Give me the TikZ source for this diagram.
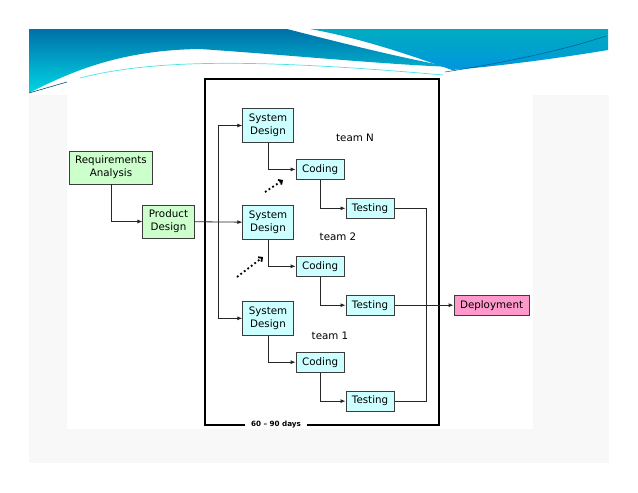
\documentclass[tikz,border=0pt]{standalone}
\usepackage{fontspec}
\setmainfont{DejaVu Sans}
\usetikzlibrary{arrows.meta,positioning}
\definecolor{reqgreen}{RGB}{204,255,204}
\definecolor{teamcyan}{RGB}{204,255,255}
\definecolor{deploypink}{RGB}{255,153,204}
\definecolor{boxedge}{RGB}{60,60,60}
\definecolor{bannerdark}{RGB}{0,112,168}
\definecolor{bannercyan}{RGB}{0,214,228}
\definecolor{bannerteal}{RGB}{0,172,192}
\definecolor{bannerblue}{RGB}{0,150,222}
\definecolor{slidegray}{RGB}{248,248,248}

\begin{document}
\begin{tikzpicture}[x=1pt, y=-1pt,
    box/.style={draw=boxedge, line width=0.9pt, align=center, inner xsep=6pt, inner ysep=4.5pt, minimum height=20pt, font=\fontsize{10.3pt}{13.3pt}\selectfont},
    greenbox/.style={box, fill=reqgreen, minimum height=33pt},
    teambox/.style={box, fill=teamcyan},
    sdbox/.style={teambox, minimum height=34pt},
    team/.style={font=\fontsize{10.3pt}{13.3pt}\selectfont},
    arr/.style={draw=black!85, line width=0.8pt, -{Latex[length=5pt,width=4pt]}},
    link/.style={draw=black!85, line width=0.8pt},
    frame/.style={line width=2.4pt, line join=miter},
    moreteams/.style={line width=1.8pt, dash pattern=on 1.8pt off 2.6pt, -{Straight Barb[angle=90:4pt]}}
]
\useasboundingbox (0,0) rectangle (638,493);
% slide background and banner
\fill[slidegray] (29,95) rectangle (609,463);
\fill[white] (67,75) rectangle (533,429);
\shade[top color=bannerdark, bottom color=bannercyan] (29,29) -- (287,29) .. controls (330,40) and (400,58) .. (452,67) .. controls (380,64) and (300,56) .. (200,49) .. controls (120,50) and (70,72) .. (29,93) -- cycle;
\shade[top color=bannerteal, bottom color=bannerblue] (310,29) -- (608,29) -- (608,50) .. controls (560,58) and (500,66) .. (452,70) .. controls (410,55) and (360,38) .. (310,29) -- cycle;
\draw[bannercyan!70, line width=0.7pt] (80,78) .. controls (150,60) and (250,58) .. (443,75);
\draw[bannerdark!70!black, line width=0.6pt] (29,93) -- (67,82);
\draw[bannerblue!60!black, line width=0.5pt] (445,72) .. controls (520,60) and (570,48) .. (606,36);

% boxes
\node[greenbox] (req) at (111,167.5) {Requirements\\Analysis};
\node[greenbox] (prod) at (168.5,221.5) {Product\\Design};
\node[sdbox] (sdN) at (268,125.5) {System\\Design};
\node[sdbox, below=62pt of sdN] (sd2) {System\\Design};
\node[sdbox, below=61pt of sd2] (sd1) {System\\Design};
\node[teambox, below right=16pt and 2pt of sdN] (codN) {Coding};
\node[teambox, below right=18pt and 1pt of codN] (testN) {Testing};
\node[teambox, below right=16pt and 2pt of sd2] (cod2) {Coding};
\node[teambox, below right=18pt and 1pt of cod2] (test2) {Testing};
\node[teambox, below right=16pt and 2pt of sd1] (cod1) {Coding};
\node[teambox, below right=18pt and 1pt of cod1] (test1) {Testing};
\node[box, fill=deploypink, right=59pt of test2] (deploy) {Deployment};
\node[team] (teamN) at (355,138) {team N};
\node[team] (team2) at (338,237) {team 2};
\node[team] (team1) at (330,336) {team 1};

% 60-90 days frame
\node[font=\fontsize{7.2pt}{8pt}\selectfont\bfseries, inner xsep=6pt] (days) at (276,425) {60 -- 90 days};
\draw[frame] (days.east) -- (439,425) -- (439,79) -- (205,79) -- (205,425) -- (days.west);

% links
\coordinate (fork) at (218,221.5);
\coordinate (join) at (426,0 |- test2);
\draw[arr] (req) |- (prod);
\draw[arr] (prod) -- (sd2);
\draw[arr] (fork) |- (sdN);
\draw[arr] (fork) |- (sd1);
\draw[arr] (sdN) |- (codN);
\draw[arr] (codN) |- (testN);
\draw[arr] (sd2) |- (cod2);
\draw[arr] (cod2) |- (test2);
\draw[arr] (sd1) |- (cod1);
\draw[arr] (cod1) |- (test1);
\draw[link] (testN) -| (join);
\draw[link] (test1) -| (join);
\draw[arr] (test2) -- (deploy);

% more teams
\coordinate (moreN) at (265,192);
\coordinate (moreNtip) at (283,180);
\coordinate (more2) at (237,277);
\coordinate (more2tip) at (263,257);
\draw[moreteams] (moreN) -- (moreNtip);
\draw[moreteams] (more2) -- (more2tip);
\end{tikzpicture}
\end{document}
